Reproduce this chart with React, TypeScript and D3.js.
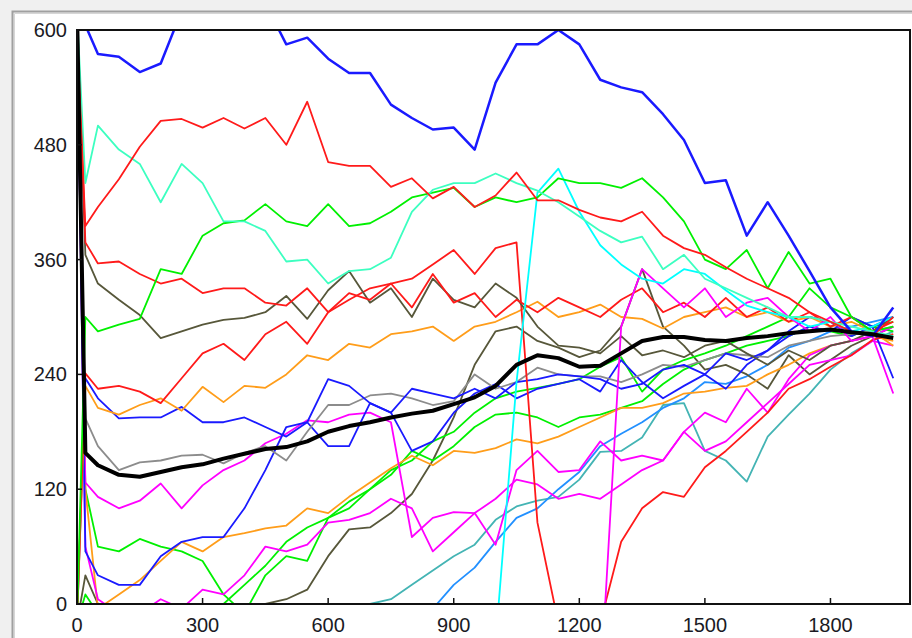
import * as d3 from 'd3';

// sample times (x) shared by every run
const T = [0, 20, 50, 100, 150, 200, 250, 300, 350, 400, 450, 500, 550, 600, 650, 700, 750, 800, 850, 900,
  950, 1000, 1050, 1100, 1150, 1200, 1250, 1300, 1350, 1400, 1450, 1500, 1550, 1600, 1650, 1700, 1750, 1800,
  1850, 1900, 1950];

const xTicks = [0, 300, 600, 900, 1200, 1500, 1800];
const yTicks = [0, 120, 240, 360, 480, 600];

const N = null;

const blueTop = [620, 605,
  575, 572, 556, 565, 620, 635, 640, 635, 628, 585,
  592, 570, 555, 555, 522, 508, 496, 498, 475, 545,
  585, 585, 600, 585, 548, 540, 535, 512, 485, 440,
  443, 385, 420, 385, 348, 310, 285, 280, 310];
const redTop = [600, 395,
  415, 444, 478, 505, 507, 498, 508, 497, 508, 480,
  525, 462, 458, 458, 436, 445, 424, 436, 415, 427,
  451, 422, 422, 412, 404, 400, 410, 385, 372, 365,
  352, 340, 330, 320, 305, 295, 285, 280, 300];
const aqua = [620, 440,
  500, 475, 460, 420, 460, 440, 400, 400, 390, 358,
  360, 335, 348, 350, 362, 410, 433, 440, 440, 450,
  440, 432, 420, 405, 390, 378, 384, 350, 365, 340,
  330, 320, 310, 300, 300, 295, 290, 285, 280];
const greenTop = [-20, 300,
  285, 292, 298, 350, 345, 385, 398, 401, 418, 400,
  395, 418, 395, 398, 410, 425, 430, 435, 415, 425,
  420, 425, 445, 440, 440, 435, 445, 425, 400, 360,
  350, 370, 330, 368, 335, 340, 300, 285, 290];
const redMid = [620, 378,
  356, 358, 345, 335, 340, 325, 330, 330, 315, 312,
  330, 305, 325, 318, 335, 310, 345, 315, 325, 300,
  318, 305, 320, 310, 300, 318, 330, 305, 315, 300,
  320, 300, 310, 295, 305, 290, 300, 285, 295];
const redDrop = [-20, 241,
  225, 228, 222, 210, 236, 262, 272, 255, 282, 295,
  272, 305, 318, 330, 335, 340, 355, 370, 345, 372,
  378, 85, -20, -30, -20, 65, 100, 117, 112, 143,
  160, 180, 200, 225, 235, 248, 260, 276, 282];
const cyanLate = [N, N,
  N, N, N, N, N, N, N, N, N, N,
  N, N, N, N, N, N, N, N, N, -40,
  232, 430, 455, 410, 375, 355, 340, 335, 350, 345,
  328, 312, 305, 300, 290, 295, 285, 290, 300];
const magentaLate = [N, N,
  N, N, N, N, N, N, N, N, N, N,
  N, N, N, N, N, N, N, N, N, N,
  N, N, N, N, -90, 290, 350, 330, 310, 330,
  300, 315, 320, 300, 285, 300, 275, 280, 220];
const magentaMid = [620, 127,
  112, 100, 108, 126, 100, 124, 140, 150, 168, 178,
  192, 190, 198, 200, 190, 70, 90, 96, 95, 62,
  140, 160, 138, 140, 170, 150, 155, 150, 180, 160,
  170, 190, 210, 230, 250, 255, 260, 275, 270];
const magentaLow = [620, 60,
  5, -10, -10, 5, -5, 15, 10, 30, 60, 55,
  62, 85, 88, 95, 110, 100, 55, 75, 95, 110,
  130, 125, 110, 115, 110, 125, 140, 150, 180, 200,
  190, 225, 200, 235, 260, 270, 275, 280, 290];
const orangeHigh = [-20, 228,
  205, 198, 208, 215, 202, 227, 211, 228, 226, 240,
  260, 255, 272, 268, 282, 285, 290, 275, 290, 295,
  305, 316, 300, 305, 313, 300, 298, 288, 300, 305,
  310, 300, 305, 295, 300, 290, 295, 285, 270];
const orangeLow = [620, 120,
  -5, 10, 25, 45, 65, 55, 70, 74, 79, 82,
  100, 95, 112, 127, 142, 155, 145, 160, 158, 163,
  172, 168, 175, 185, 195, 205, 205, 210, 220, 222,
  226, 228, 240, 250, 262, 270, 275, 280, 275];
const oliveHigh = [620, 365,
  335, 318, 302, 278, 285, 292, 297, 299, 305, 322,
  298, 328, 348, 315, 330, 300, 340, 318, 310, 335,
  320, 290, 270, 268, 262, 280, 260, 265, 258, 270,
  275, 262, 250, 265, 255, 270, 275, 285, 300];
const oliveLow = [-20, 30,
  0, -10, -10, -10, -10, -10, -10, -10, 0, 5,
  15, 50, 78, 80, 95, 115, 150, 195, 250, 285,
  290, 275, 268, 258, 265, 290, 350, 290, 270, 245,
  250, 240, 225, 260, 240, 255, 270, 280, 290];
const grayRun = [620, 194,
  165, 140, 148, 150, 155, 156, 147, 158, 165, 150,
  180, 208, 208, 218, 220, 215, 208, 212, 240, 225,
  232, 247, 240, 238, 238, 232, 240, 250, 248, 255,
  262, 260, 258, 270, 275, 280, 282, 285, 290];
const blueMid = [-20, 236,
  215, 194, 195, 195, 206, 190, 190, 195, 185, 175,
  190, 235, 228, 210, 200, 225, 220, 215, 225, 215,
  232, 235, 240, 238, 235, 225, 230, 245, 250, 240,
  262, 255, 265, 280, 290, 285, 300, 290, 236];
const blueLow = [620, 55,
  30, 20, 20, 50, 65, 70, 70, 100, 140, 185,
  190, 165, 165, 210, 200, 160, 170, 200, 220, 230,
  215, 225, 230, 235, 222, 255, 232, 215, 228, 240,
  225, 250, 265, 285, 300, 295, 280, 290, 300];
const greenMid = [620, 120,
  60, 55, 68, 60, 55, 45, 10, -10, 30, 50,
  45, 90, 107, 120, 135, 160, 150, 165, 185, 198,
  200, 195, 185, 195, 198, 205, 212, 230, 245, 255,
  262, 270, 275, 280, 290, 285, 280, 290, 285];
const greenLow = [-20, 10,
  -10, -10, -10, -10, -10, -10, 0, 20, 40, 65,
  80, 90, 100, 120, 140, 150, 170, 180, 200, 215,
  222, 226, 230, 235, 248, 258, 222, 245, 255, 262,
  270, 280, 290, 300, 330, 310, 300, 290, 295];
const tealLate = [N, N,
  N, N, N, N, N, N, N, N, N, N,
  N, -20, -5, 0, 5, 20, 35, 50, 62, 88,
  102, 108, 112, 130, 159, 160, 174, 208, 210, 160,
  150, 128, 175, 198, 220, 245, 262, 275, 285];
const skyLate = [N, N,
  N, N, N, N, N, N, N, N, N, N,
  N, N, N, N, N, N, -5, 20, 38, 65,
  90, 100, 120, 138, 165, 178, 190, 205, 215, 232,
  230, 238, 250, 268, 275, 285, 290, 295, 300];
const meanRun = [620, 158,
  145, 135, 133, 138, 143, 146, 152, 157, 162, 164,
  170, 180, 186, 190, 195, 199, 202, 209, 216, 228,
  250, 260, 257, 248, 249, 262, 275, 279, 279, 276,
  275, 278, 280, 283, 285, 287, 284, 282, 278];

const runs: { data: (number | null)[]; color: string; w: number }[] = [
  { data: tealLate, color: '#44b4b4', w: 1.8 },
  { data: skyLate, color: '#2290ff', w: 1.8 },
  { data: oliveLow, color: '#57573a', w: 1.8 },
  { data: greenLow, color: '#00f000', w: 1.8 },
  { data: greenMid, color: '#00f000', w: 1.8 },
  { data: orangeLow, color: '#ff9d1a', w: 1.8 },
  { data: magentaLow, color: '#ff00ff', w: 1.8 },
  { data: magentaMid, color: '#ff00ff', w: 1.8 },
  { data: blueLow, color: '#1a1aff', w: 1.8 },
  { data: grayRun, color: '#8c8c8c', w: 1.8 },
  { data: blueMid, color: '#1a1aff', w: 1.8 },
  { data: orangeHigh, color: '#ff9d1a', w: 1.8 },
  { data: redDrop, color: '#ff1a1a', w: 1.8 },
  { data: oliveHigh, color: '#57573a', w: 1.8 },
  { data: redMid, color: '#ff1a1a', w: 1.8 },
  { data: magentaLate, color: '#ff00ff', w: 1.8 },
  { data: cyanLate, color: '#00ffff', w: 1.8 },
  { data: greenTop, color: '#00f000', w: 1.8 },
  { data: aqua, color: '#3cffc0', w: 1.8 },
  { data: redTop, color: '#ff1a1a', w: 1.8 },
  { data: blueTop, color: '#1a1aff', w: 2.5 },
  { data: meanRun, color: '#000000', w: 4 },
];

export default function App() {
  const width = 912;
  const height = 638;
  const left = 77, right = 910, top = 30, bottom = 604;

  const x = d3.scaleLinear().domain([0, 1990]).range([left, right]);
  const y = d3.scaleLinear().domain([0, 600]).range([bottom, top]);

  const line = d3.line<number | null>()
    .defined(v => v != null)
    .x((_, i) => x(T[i]))
    .y(v => y(v as number));

  const font = '"Liberation Sans", Arial, sans-serif';

  return (
    <svg width={width} height={height} style={{ position: 'absolute', left: 0, top: 0 }}>
      <defs>
        <clipPath id="plot-clip">
          <rect x={left} y={top} width={right - left} height={bottom - top} />
        </clipPath>
      </defs>
      <rect x={0} y={0} width={width} height={height} fill="#f0f0f0" />
      <rect x={14} y={13} width={width - 14} height={height - 13} fill="#ffffff" />
      <path d={`M12.5,${height} V11.5 H${width}`} fill="none" stroke="#a0a0a0" strokeWidth={2} />
      <path d={`M14.5,${height} V13.5 H${width}`} fill="none" stroke="#d6d6d6" strokeWidth={1} />

      <g clipPath="url(#plot-clip)">
        {runs.map((r, i) => (
          <path key={i} d={line(r.data) || ''} fill="none" stroke={r.color}
            strokeWidth={r.w} strokeLinejoin="round" />
        ))}
      </g>

      <rect x={left} y={top} width={right - left} height={bottom - top} fill="none"
        stroke="#111" strokeWidth={2} />

      {yTicks.map(t => (
        <g key={'y' + t}>
          <line x1={left} x2={left + 5} y1={y(t)} y2={y(t)} stroke="#111" strokeWidth={1.5} />
          <text x={67} y={y(t) + 7} textAnchor="end" fontFamily={font} fontSize={20} fill="#1a1a24">{t}</text>
        </g>
      ))}
      {xTicks.map(t => (
        <g key={'x' + t}>
          <line x1={x(t)} x2={x(t)} y1={bottom} y2={bottom - 6} stroke="#111" strokeWidth={1.5} />
          <text x={x(t)} y={632} textAnchor="middle" fontFamily={font} fontSize={20} fill="#1a1a24">{t}</text>
        </g>
      ))}
    </svg>
  );
}
